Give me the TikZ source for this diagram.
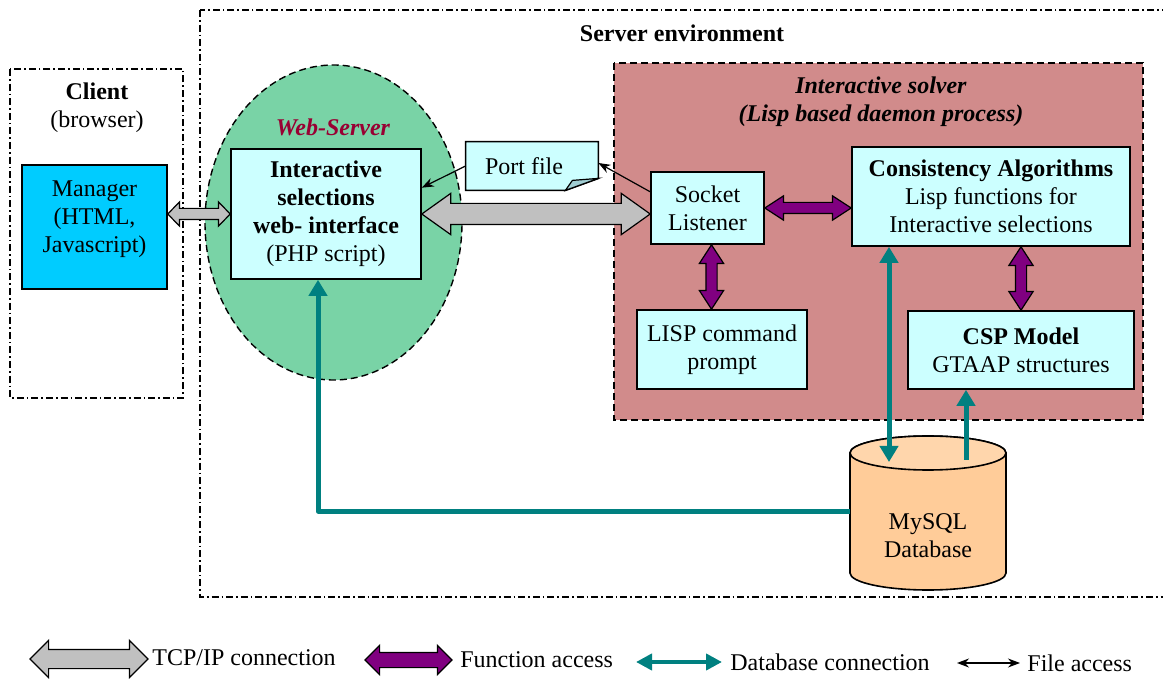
\documentclass[tikz,border=0pt]{standalone}
\usepackage{fontspec}
\setmainfont{Liberation Serif}
\usetikzlibrary{shapes.geometric,shapes.arrows,arrows.meta,calc}

\definecolor{mgrblue}{RGB}{0,204,255}
\definecolor{boxcyan}{RGB}{204,255,255}
\definecolor{foldcyan}{RGB}{160,205,210}
\definecolor{webgreen}{RGB}{121,211,166}
\definecolor{webtitle}{RGB}{153,0,51}
\definecolor{solverred}{RGB}{209,139,139}
\definecolor{funcpurple}{RGB}{128,0,128}
\definecolor{dbteal}{RGB}{0,128,128}
\definecolor{tcpgray}{RGB}{192,192,192}
\definecolor{dborange}{RGB}{255,204,153}
\definecolor{dbtop}{RGB}{255,214,172}

\tikzset{
  unitbox/.style={draw, fill=boxcyan, line width=0.8pt, inner sep=0pt, align=center},
  envbox/.style={line width=0.6pt, dash pattern=on 3.5pt off 1.5pt on 0.8pt off 1.5pt},
  zonebox/.style={line width=0.7pt, dash pattern=on 3.5pt off 2pt},
  tcparrow/.style={double arrow, draw, fill=tcpgray, line width=0.6pt, inner xsep=0pt, inner ysep=5pt,
    double arrow tip angle=71, double arrow head extend=5pt},
  funcarrow/.style={double arrow, draw, fill=funcpurple, line width=0.6pt, inner xsep=0pt, inner ysep=2.5pt,
    double arrow tip angle=66, double arrow head extend=3.25pt},
  dbline/.style={draw=dbteal, line width=2.5pt, line join=round, >={Triangle[width=9pt,length=8pt]}},
  fileline/.style={line width=0.6pt, >={Stealth[length=6pt,width=4.5pt]}},
}

% fat double arrow node stretched between two points
\newcommand{\fatlink}[4]{%
  \path let \p1=(#3), \p2=(#4), \n1={veclen(\x2-\x1,\y2-\y1)}, \n2={atan2(\y2-\y1,\x2-\x1)}
    in node[#1, minimum height=\n1, rotate=\n2] (#2) at ($(\p1)!0.5!(\p2)$) {};}

\begin{document}
\begin{tikzpicture}[x=0.5pt, y=-0.5pt, every node/.style={font=\fontsize{12}{14}\selectfont}]
\useasboundingbox (0,0) rectangle (1163,679);
%
% environments
\draw[envbox] (200,10) rectangle (1185,597);
\node (servertitle) at (682,33) {\textbf{Server environment}};
\draw[envbox] (10,69) rectangle (183,398);
\node[align=center] (clienttitle) at (97,108) {\textbf{Client}\\(browser)};
\node[unitbox, fill=mgrblue, minimum width=72.5pt, minimum height=62pt] (manager) at (94.5,227) {};
\node[align=center] (mgrtext) at (94.5,219) {Manager\\(HTML,\\Javascript)};
%
% web server
\node[ellipse, draw, zonebox, fill=webgreen, minimum width=128.5pt, minimum height=157.5pt, inner sep=0pt] (webserver) at (333.5,222.5) {};
\node (webtitletext) at (333,127) {\textcolor{webtitle}{\textbf{\textit{Web-Server}}}};
\node[unitbox, minimum width=95pt, minimum height=65pt] (webui) at (326,214) {\textbf{Interactive}\\\textbf{selections}\\\textbf{web- interface}\\(PHP script)};
%
% port file
\node[minimum width=66pt, minimum height=24pt, inner sep=0pt] (portfile) at (532,166) {};
\draw[fill=boxcyan, line width=0.8pt] (portfile.north west) -- (portfile.north east) -- ([yshift=6pt]portfile.south east)
  -- ([xshift=-16.5pt]portfile.south east) -- (portfile.south west) -- cycle;
\draw[fill=foldcyan, line width=0.6pt] ([xshift=-16.5pt]portfile.south east) -- ([xshift=-13pt,yshift=5pt]portfile.south east)
  -- ([yshift=6pt]portfile.south east) -- cycle;
\node (porttext) at (524,166) {Port file};
%
% interactive solver
\draw[zonebox, fill=solverred] (614,63) rectangle (1143,420);
\node[align=center] (solvertitle) at (881,102) {\textbf{\textit{Interactive solver}}\\\textbf{\textit{(Lisp based daemon process)}}};
\node[unitbox, minimum width=56.5pt, minimum height=36pt] (socket) at (707.5,208) {Socket\\Listener};
\node[unitbox, minimum width=139pt, minimum height=49.5pt] (cons) at (991,196.5) {\textbf{Consistency Algorithms}\\Lisp functions for\\Interactive selections};
\node[unitbox, minimum width=85pt, minimum height=39.5pt] (lisp) at (722,349.5) {LISP command\\prompt};
\node[unitbox, minimum width=113pt, minimum height=39pt] (csp) at (1021,350) {\textbf{CSP Model}\\GTAAP structures};
%
% database
\node[minimum width=78pt, minimum height=68pt, inner sep=0pt] (db) at (928,511) {};
\draw[fill=dborange, line width=0.8pt] (850,453) -- (850,573) arc (180:0:78 and 17) -- (1006,453) arc (0:-180:78 and 17) -- cycle;
\draw[fill=dbtop, line width=0.8pt] (928,453) ellipse [x radius=78, y radius=17];
\node[align=center] (dbtext) at (928,536) {MySQL\\Database};
%
% connections
\fatlink{tcparrow, inner ysep=2.5pt, double arrow head extend=3.25pt, double arrow tip angle=92}{mgrlink}{manager.east |- webui.west}{webui.west}
\fatlink{tcparrow}{tcplink}{webui.east}{webui.east -| socket.west}
\fatlink{funcarrow}{funclinka}{socket.east}{socket.east -| cons.west}
\fatlink{funcarrow}{funclinkb}{[xshift=2pt]socket.south}{[xshift=2pt]socket.south |- lisp.north}
\fatlink{funcarrow}{funclinkc}{csp.north |- cons.south}{csp.north}
%
\coordinate (dbin) at (889,462);
\coordinate (dbout) at (966,460);
\draw[dbline, <-] ([xshift=-4pt]webui.south) |- (db.west);
\draw[dbline, <->] (dbin |- cons.south) -- (dbin);
\draw[dbline, ->] (dbout) -- (dbout |- csp.south);
%
\draw[fileline, ->] (portfile.west) -- ($(webui.north east)!0.3!(webui.south east)$);
\draw[fileline, ->] ($(socket.north west)!0.28!(socket.south west)$) -- ([yshift=1.5pt]portfile.east);
%
% legend
\coordinate (tcpa) at (30,659);
\coordinate (tcpb) at (148,659);
\fatlink{tcparrow, inner ysep=4.5pt, double arrow head extend=4.5pt, double arrow tip angle=90}{tcpkey}{tcpa}{tcpb}
\node[anchor=west, inner sep=0pt] (tcptext) at (152,658) {TCP/IP connection};
\coordinate (funca) at (365,660);
\coordinate (funcb) at (452,660);
\fatlink{funcarrow, inner ysep=3.5pt, double arrow head extend=3.5pt, double arrow tip angle=90}{funckey}{funca}{funcb}
\node[anchor=west, inner sep=0pt] (functext) at (460,660) {Function access};
\coordinate (dba) at (636,662);
\coordinate (dbb) at (722,662);
\draw[dbline, line width=2pt, >={Triangle[width=8pt,length=8pt]}, <->] (dba) -- (dbb);
\node[anchor=west, inner sep=0pt] (dbkeytext) at (730,662) {Database connection};
\coordinate (filea) at (957,663);
\coordinate (fileb) at (1020,663);
\draw[fileline, <->] (filea) -- (fileb);
\node[anchor=west, inner sep=0pt] (filetext) at (1027,663) {File access};
\end{tikzpicture}
\end{document}
